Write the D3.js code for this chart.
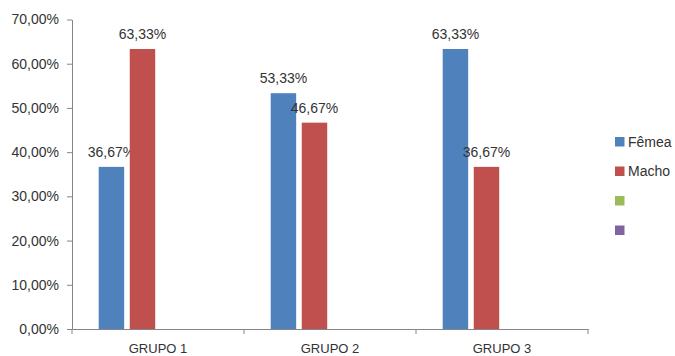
<!DOCTYPE html>
<html lang="pt">
<head>
  <meta charset="UTF-8">
  <title>Grupos por sexo</title>
  <style>
    body {
      margin: 0;
      padding: 0;
      background: #fff;
    }

    svg {
      display: block;
      font-family: "Liberation Sans", Arial, sans-serif;
    }

    .axis path,
    .axis line {
      stroke: #868686;
    }

    .axis text {
      fill: #333;
      font-size: 14px;
    }

    .value {
      fill: #333;
      font-size: 14px;
      text-anchor: middle;
    }

    .legend text {
      fill: #333;
      font-size: 14px;
    }
  </style>
</head>
<body>
  <div id="chart"></div>

  <script src="https://d3js.org/d3.v7.min.js"></script>
  <script>
    var categories = ["GRUPO 1", "GRUPO 2", "GRUPO 3"];
    var seriesNames = ["Fêmea", "Macho", "", ""];
    var seriesColors = ["#4F81BD", "#C0504D", "#9BBB59", "#8064A2"];
    var femea = [0.3667, 0.5333, 0.6333];
    var macho = [0.6333, 0.4667, 0.3667];
    var serie3 = [null, null, null];
    var serie4 = [null, null, null];
    var yTicks = [0, 0.1, 0.2, 0.3, 0.4, 0.5, 0.6, 0.7];

    var seriesValues = [femea, macho, serie3, serie4];

    var width = 675;
    var height = 356;

    var pt = d3.formatLocale({
      decimal: ",",
      thousands: ".",
      grouping: [3],
      currency: ["R$", ""]
    });
    var pct = pt.format(".2%");

    var svg = d3.select("#chart")
      .append("svg")
      .attr("width", width)
      .attr("height", height);

    var x0 = d3.scaleBand()
      .domain(categories)
      .range([72, 588])
      .padding(0);

    var x1 = d3.scaleBand()
      .domain(d3.range(seriesNames.length))
      .range([0, x0.bandwidth()])
      .paddingInner(0.18)
      .paddingOuter(0.86);

    var y = d3.scaleLinear()
      .domain([0, 0.7])
      .range([329, 19.5]);

    // y axis
    svg.append("g")
      .attr("class", "axis")
      .attr("transform", "translate(72,0)")
      .call(d3.axisLeft(y)
        .tickValues(yTicks)
        .tickFormat(pct)
        .tickSizeInner(5)
        .tickSizeOuter(0)
        .tickPadding(8));

    // x axis
    var xAxis = svg.append("g")
      .attr("class", "axis")
      .attr("transform", "translate(0,329)")
      .call(d3.axisBottom(x0)
        .tickSize(0)
        .tickPadding(15));
    xAxis.selectAll("text").style("font-size", "13px");

    var bounds = categories.map(function(c) { return x0(c); })
      .concat([x0(categories[categories.length - 1]) + x0.bandwidth()]);
    xAxis.selectAll(".bound")
      .data(bounds)
      .enter().append("line")
      .attr("class", "bound")
      .attr("x1", function(d) { return d; })
      .attr("x2", function(d) { return d; })
      .attr("y1", 0)
      .attr("y2", 5)
      .attr("stroke", "#868686");

    // bars
    var groups = svg.selectAll(".grp")
      .data(categories)
      .enter().append("g")
      .attr("class", "grp")
      .attr("transform", function(c) { return "translate(" + x0(c) + ",0)"; });

    var cells = groups.selectAll(".cell")
      .data(function(c, i) {
        return seriesValues.map(function(vals, s) {
          return { s: s, v: vals[i] };
        }).filter(function(d) { return d.v != null; });
      })
      .enter().append("g")
      .attr("class", "cell");

    cells.append("rect")
      .attr("x", function(d) { return x1(d.s); })
      .attr("width", x1.bandwidth())
      .attr("y", function(d) { return y(d.v); })
      .attr("height", function(d) { return y(0) - y(d.v); })
      .attr("fill", function(d) { return seriesColors[d.s]; });

    cells.append("text")
      .attr("class", "value")
      .attr("x", function(d) { return x1(d.s) + x1.bandwidth() / 2; })
      .attr("y", function(d) { return y(d.v) - 10; })
      .text(function(d) { return pct(d.v); });

    // legend
    var legend = svg.append("g")
      .attr("class", "legend")
      .attr("transform", "translate(615,137)");

    var item = legend.selectAll(".item")
      .data(seriesNames)
      .enter().append("g")
      .attr("class", "item")
      .attr("transform", function(d, i) { return "translate(0," + i * 29.5 + ")"; });

    item.append("rect")
      .attr("width", 9.5)
      .attr("height", 9.5)
      .attr("fill", function(d, i) { return seriesColors[i]; });

    item.append("text")
      .attr("x", 13)
      .attr("y", 4.75)
      .attr("dy", "0.36em")
      .text(function(d) { return d; });
  </script>
</body>
</html>
